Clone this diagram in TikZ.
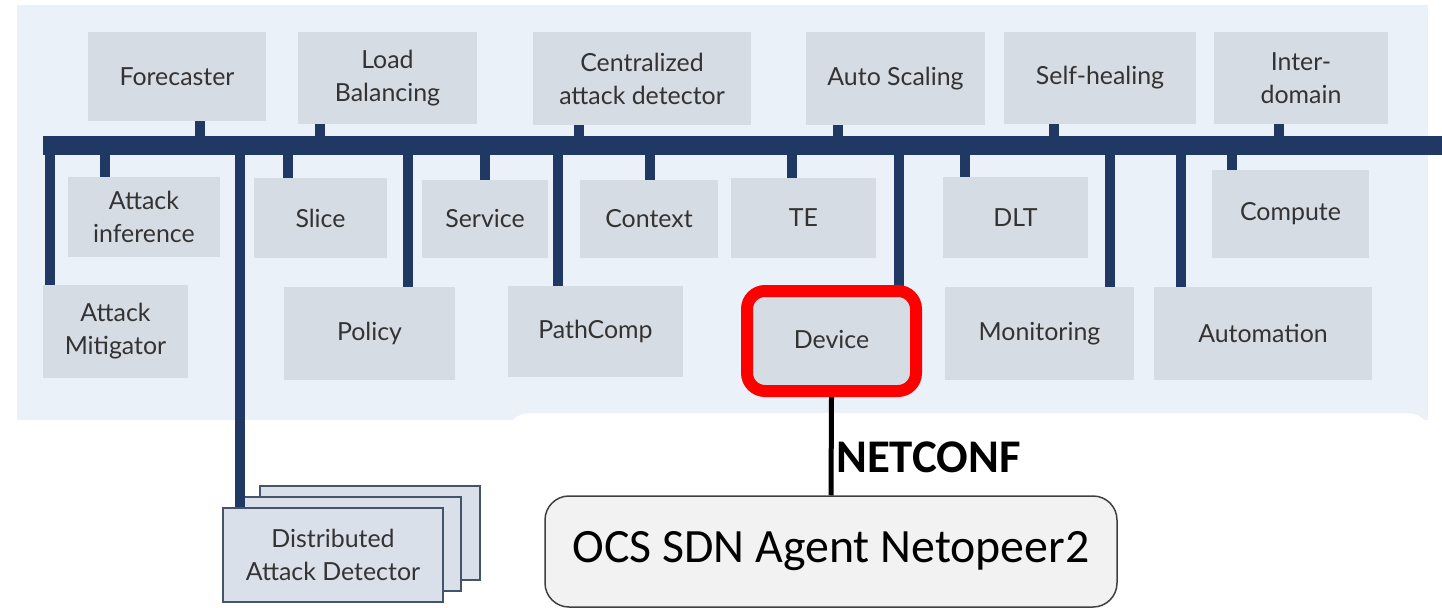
\documentclass[tikz,border=0pt]{standalone}
\usepackage{fontspec}
\setmainfont{Lato}
\newfontfamily\carl{Carlito}
\definecolor{panelbg}{HTML}{EBF1F9}
\definecolor{boxgray}{HTML}{D6DCE4}
\definecolor{busblue}{HTML}{1F3864}
\definecolor{labelgray}{HTML}{333333}
\definecolor{dadfill}{HTML}{D9E0EA}
\definecolor{dadline}{HTML}{44546A}
\definecolor{agentfill}{HTML}{F2F2F2}
\tikzset{
  gbox/.style={rectangle, fill=boxgray, inner sep=0pt, align=center,
    text=labelgray, font=\fontsize{25}{33}\selectfont},
  busbar/.style={rectangle, fill=busblue, inner sep=0pt, outer sep=0pt},
  stub/.style={draw=busblue, line width=10bp},
  drop/.style={draw=busblue, line width=10bp},
  dadbox/.style={rectangle, fill=dadfill, draw=dadline, line width=2.5bp,
    minimum width=220bp, minimum height=94bp, inner sep=0pt, align=center,
    text=labelgray, font=\fontsize{25}{33}\selectfont},
}
\begin{document}
\begin{tikzpicture}[x=1bp, y=-1bp]
\useasboundingbox (0,0) rectangle (1442,608);
% panel behind the controller components
\fill[panelbg] (17,5) rectangle (1428,420);
\fill[white, rounded corners=25bp] (505,413) rectangle (1432,640);

% main bus
\node[busbar, minimum width=1399bp, minimum height=19bp, anchor=west] (bus) at (43,146) {};

% upper row
\node[gbox, minimum width=178bp, minimum height=89bp] (fc) at (177,76.5) {Forecaster};
\node[gbox, minimum width=179bp, minimum height=92bp] (lb) at (387.5,78) {Load\\Balancing};
\node[gbox, minimum width=218bp, minimum height=93bp] (cad) at (642,78.5) {Centralized\\attack detector};
\node[gbox, minimum width=179bp, minimum height=93bp] (as) at (895.5,78.5) {Auto Scaling};
\node[gbox, minimum width=192bp, minimum height=92bp] (sh) at (1100,78) {Self-healing};
\node[gbox, minimum width=174bp, minimum height=92bp] (id) at (1301,78) {Inter-\\domain};

% middle row
\node[gbox, minimum width=152bp, minimum height=80bp] (ai) at (144,217) {Attack\\inference};
\node[gbox, minimum width=133bp, minimum height=80bp] (sl) at (320.5,218) {Slice};
\node[gbox, minimum width=126bp, minimum height=78bp] (sv) at (485,219) {Service};
\node[gbox, minimum width=138bp, minimum height=78bp] (cx) at (649,219) {Context};
\node[gbox, minimum width=145bp, minimum height=80bp] (te) at (803.5,218) {TE};
\node[gbox, minimum width=145bp, minimum height=81bp] (dlt) at (1015.5,217.5) {DLT};
\node[gbox, minimum width=157bp, minimum height=88bp] (cp) at (1290.5,214) {Compute};

% lower row
\node[gbox, minimum width=145bp, minimum height=93bp] (am) at (115.5,331.5) {Attack\\Mitigator};
\node[gbox, minimum width=171bp, minimum height=93bp] (po) at (369.5,333.5) {Policy};
\node[gbox, minimum width=175bp, minimum height=91bp] (pc) at (595.5,331.5) {PathComp};
\node[gbox, minimum width=189bp, minimum height=93bp] (mo) at (1039.5,333.5) {Monitoring};
\node[gbox, minimum width=218bp, minimum height=93bp] (au) at (1263,333.5) {Automation};

% distributed detector stack
\node[dadbox] (dad3) at (370,533) {};
\node[dadbox] (dad2) at (351,544) {};
\node[dadbox] (dad) at (333,555) {Distributed\\Attack Detector};

% stubs from the upper row down to the bus
\draw[stub] ([xshift=23bp]fc.south) -- ([xshift=23bp]fc.south |- bus.north);
\draw[stub] ([xshift=-67.5bp]lb.south) -- ([xshift=-67.5bp]lb.south |- bus.north);
\draw[stub] ([xshift=-63bp]cad.south) -- ([xshift=-63bp]cad.south |- bus.north);
\draw[stub] ([xshift=-57.5bp]as.south) -- ([xshift=-57.5bp]as.south |- bus.north);
\draw[stub] ([xshift=-46bp]sh.south) -- ([xshift=-46bp]sh.south |- bus.north);
\draw[stub] ([xshift=-22bp]id.south) -- ([xshift=-22bp]id.south |- bus.north);

% stubs from the bus down to the middle row
\draw[stub] ([xshift=-39bp]ai.north) -- ([xshift=-39bp]ai.north |- bus.south);
\draw[stub] ([xshift=-32.5bp]sl.north) -- ([xshift=-32.5bp]sl.north |- bus.south);
\draw[stub] (sv.north) -- (sv.north |- bus.south);
\draw[stub] ([xshift=1bp]cx.north) -- ([xshift=1bp]cx.north |- bus.south);
\draw[stub] ([xshift=-11.5bp]te.north) -- ([xshift=-11.5bp]te.north |- bus.south);
\draw[stub] ([xshift=-50.5bp]dlt.north) -- ([xshift=-50.5bp]dlt.north |- bus.south);
\draw[stub] ([xshift=-58.5bp]cp.north) -- ([xshift=-58.5bp]cp.north |- bus.south);

% long drops from the bus to the lower row
\draw[drop] ([xshift=-65.5bp]am.north) -- ([xshift=-65.5bp]am.north |- bus.south);
\draw[drop] ([xshift=-93bp]dad.north) -- ([xshift=-93bp]dad.north |- bus.south);
\draw[drop] ([xshift=38.5bp]po.north) -- ([xshift=38.5bp]po.north |- bus.south);
\draw[drop] ([xshift=-37.5bp]pc.north) -- ([xshift=-37.5bp]pc.north |- bus.south);
\draw[drop] ([xshift=70.5bp]mo.north) -- ([xshift=70.5bp]mo.north |- bus.south);
\draw[drop] ([xshift=-82bp]au.north) -- ([xshift=-82bp]au.north |- bus.south);
\coordinate (devtop) at (899,286);
\draw[drop] (devtop) -- (devtop |- bus.south);

% highlighted device component
\node[gbox, draw=red, line width=12bp, rounded corners=18bp,
  minimum width=169bp, minimum height=100bp] (dev) at (831.5,341) {\raisebox{4bp}{Device}};

% agent below
\node[rectangle, rounded corners=24bp, fill=agentfill, draw=black!75, line width=1.5bp,
  minimum width=572bp, minimum height=111bp, inner sep=0pt,
  font=\carl\fontsize{48}{56}\selectfont] (ocs) at (831,551.5) {\raisebox{-3bp}{OCS SDN Agent Netopeer2}};
\draw[black, line width=5bp] (dev.south) -- (ocs.north);
\node[anchor=base west, inner sep=0pt, font=\carl\bfseries\fontsize{47}{54}\selectfont] (nc) at (836,472) {NETCONF};
\end{tikzpicture}
\end{document}
